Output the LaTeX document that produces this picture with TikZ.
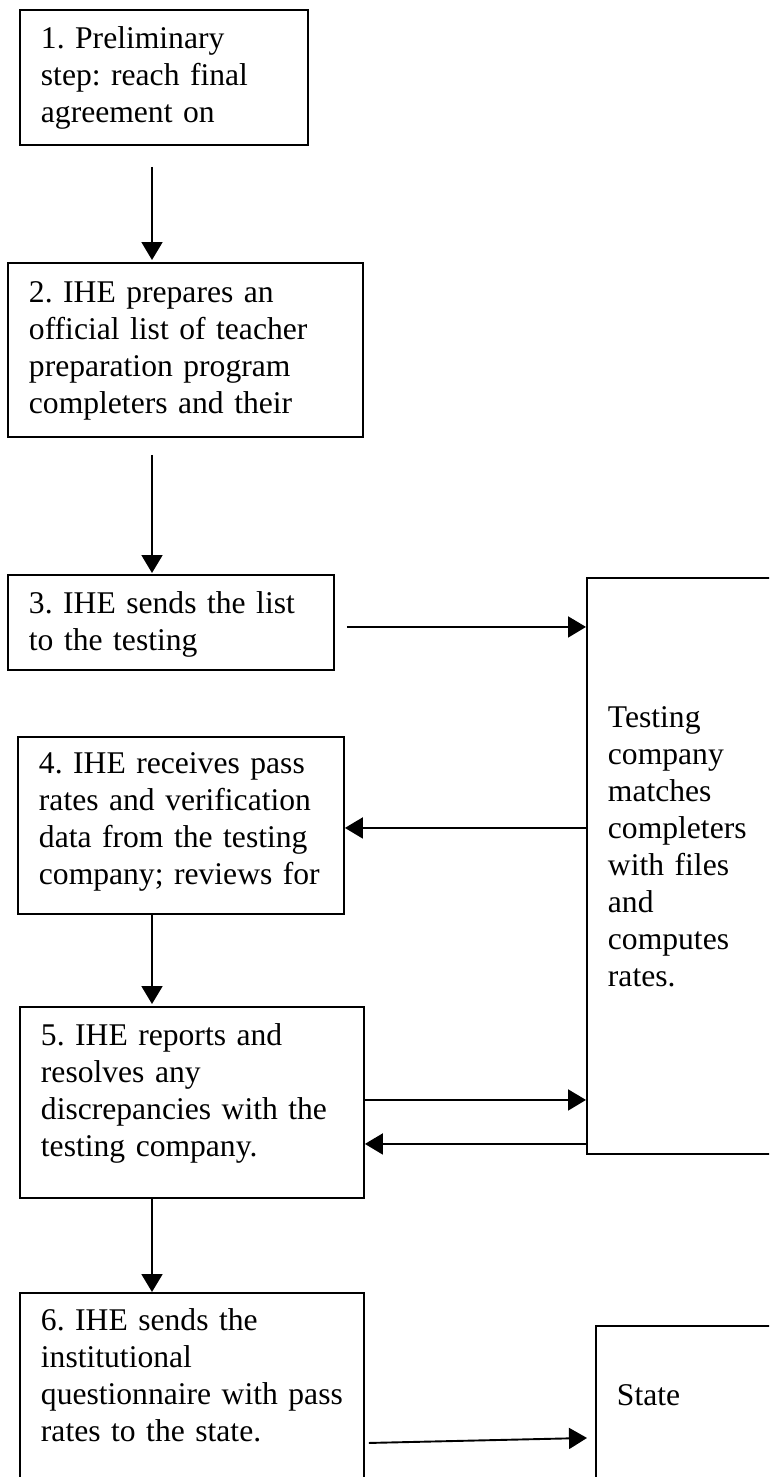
\documentclass[tikz,border=0pt]{standalone}
\usepackage{fontspec}
\setmainfont{Liberation Serif}
\usetikzlibrary{arrows.meta}
\frenchspacing

\tikzset{
  stepbox/.style={draw, line width=1.9pt, anchor=north west, align=left,
    inner xsep=21pt, inner ysep=0pt,
    font=\fontsize{31.6pt}{37pt}\selectfont},
  flow/.style={line width=1.9pt, -{Triangle[length=18pt,width=21pt]}}
}

\begin{document}
\begin{tikzpicture}[x=1pt, y=-1pt]
		%%%%% START %%%%%
		\useasboundingbox (0, 0) rectangle (769, 1477);
		\fill[white] (0, 0) rectangle (769, 1477);
		\clip (0, 0) rectangle (769, 1477);
		
		\coordinate (spine) at (152, 0);
		
		% left column: the IHE steps
		\node[stepbox, text width=246pt, text height=39pt, text depth=96pt] (b1) at (19, 9)
			{1. Preliminary\\ step: reach final\\ agreement on};
		\node[stepbox, text width=313pt, text height=40pt, text depth=134pt] (b2) at (7, 262)
			{2. IHE prepares an\\ official list of teacher\\ preparation program\\ completers and their};
		\node[stepbox, text width=284pt, text height=39pt, text depth=56pt] (b3) at (7, 574)
			{3. IHE sends the list\\ to the testing};
		\node[stepbox, text width=284pt, text height=37pt, text depth=140pt] (b4) at (17, 736)
			{4. IHE receives pass\\ rates and verification\\ data from the testing\\ company; reviews for};
		\node[stepbox, text width=302pt, text height=39pt, text depth=152pt] (b5) at (19, 1006)
			{5. IHE reports and\\ resolves any\\ discrepancies with the\\ testing company.};
		\node[stepbox, text width=302pt, text height=38pt, text depth=270pt] (b6) at (19, 1292)
			{6. IHE sends the\\ institutional\\ questionnaire with pass\\ rates to the state.};
		
		% right column
		\node[stepbox, text width=208pt, text height=150pt, text depth=426pt] (test) at (586, 577)
			{Testing\\ company\\ matches\\ completers\\ with files\\ and\\ computes\\ rates.};
		\node[stepbox, text width=208pt, text height=80pt, text depth=200pt] (state) at (595, 1325)
			{State};
		
		% downward arrows
		\draw[flow] (b1.south -| spine) ++(0, 21) -- ([yshift=2pt]b2.north -| spine);
		\draw[flow] (b2.south -| spine) ++(0, 17) -- ([yshift=1pt]b3.north -| spine);
		\draw[flow] (b4.south -| spine) -- ([yshift=2pt]b5.north -| spine);
		\draw[flow] (b5.south -| spine) -- (b6.north -| spine);
		
		% to and from the testing company
		\draw[flow] ([xshift=12pt, yshift=-4.5pt]b3.east) -- ([yshift=-4.5pt]b3.east -| test.west);
		\draw[flow] ([yshift=-2.5pt]b4.east -| test.west) -- ([yshift=-2.5pt]b4.east);
		\draw[flow] ([yshift=2.5pt]b5.east) -- ([yshift=2.5pt]b5.east -| test.west);
		\draw[flow] ([yshift=-41.5pt]b5.east -| test.west) -- ([yshift=-41.5pt]b5.east);
		
		\draw[flow] ([xshift=4pt, yshift=4pt]b6.east) -- ([xshift=-8pt, yshift=9pt]b6.east -| state.west);
		%%%%% END %%%%%
\end{tikzpicture}
\end{document}
